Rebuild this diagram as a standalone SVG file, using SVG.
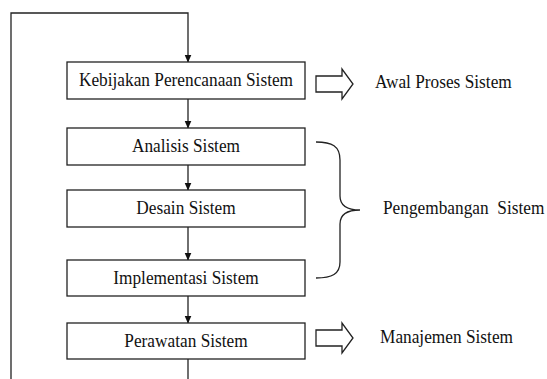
<svg xmlns="http://www.w3.org/2000/svg" width="547" height="379" viewBox="0 0 547 379">
<defs>
<marker id="ah" markerWidth="8" markerHeight="9" refX="7.5" refY="4" orient="auto" markerUnits="userSpaceOnUse">
<path d="M0,0.5 L8,4 L0,7.5 Z" fill="#111"/>
</marker>
</defs>
<style>
.box{fill:#fff;stroke:#222;stroke-width:1.3}
.t{font-family:"Liberation Serif","Times New Roman",serif;font-size:17.3px;fill:#111}
.c{text-anchor:middle}
.ln{fill:none;stroke:#222;stroke-width:1.3}
</style>
<rect width="547" height="379" fill="#fff"/>
<g id="connectors">
<path class="ln" d="M11,379 V13 H188 V62" marker-end="url(#ah)"/>
<path class="ln" d="M188,99 V128" marker-end="url(#ah)"/>
<path class="ln" d="M188,165 V190" marker-end="url(#ah)"/>
<path class="ln" d="M188,227 V260" marker-end="url(#ah)"/>
<path class="ln" d="M188,296 V323" marker-end="url(#ah)"/>
<path class="ln" d="M188,359 V379"/>
</g>
<g id="n1"><rect class="box" x="67" y="62" width="238" height="37"/><text class="t c" transform="translate(186,86) scale(1,1.12)">Kebijakan Perencanaan Sistem</text></g>
<g id="n2"><rect class="box" x="67" y="128" width="238" height="37"/><text class="t c" transform="translate(186,152) scale(1,1.12)">Analisis Sistem</text></g>
<g id="n3"><rect class="box" x="67" y="190" width="238" height="37"/><text class="t c" transform="translate(186,214) scale(1,1.12)">Desain Sistem</text></g>
<g id="n4"><rect class="box" x="67" y="260" width="238" height="36"/><text class="t c" transform="translate(186,284) scale(1,1.12)">Implementasi Sistem</text></g>
<g id="n5"><rect class="box" x="67" y="323" width="238" height="36"/><text class="t c" transform="translate(186,347) scale(1,1.12)">Perawatan Sistem</text></g>
<g id="a1"><path class="ln" d="M316,76 H342 V69 L353,84 L342,99 V92 H316 Z"/><text class="t" transform="translate(375,88) scale(1,1.12)">Awal Proses Sistem</text></g>
<g id="a2"><path class="ln" d="M316,330 H342 V323 L353,338 L342,353 V346 H316 Z"/><text class="t" transform="translate(380,343) scale(1,1.12)">Manajemen Sistem</text></g>
<g id="br"><path class="ln" d="M316,142 C332,142 340,146 340,160 V196 C340,206 348,210 360,210 C348,210 340,214 340,224 V262 C340,274 332,278 316,278"/><text class="t" transform="translate(383,214) scale(1,1.12)" xml:space="preserve">Pengembangan  Sistem</text></g>
</svg>
